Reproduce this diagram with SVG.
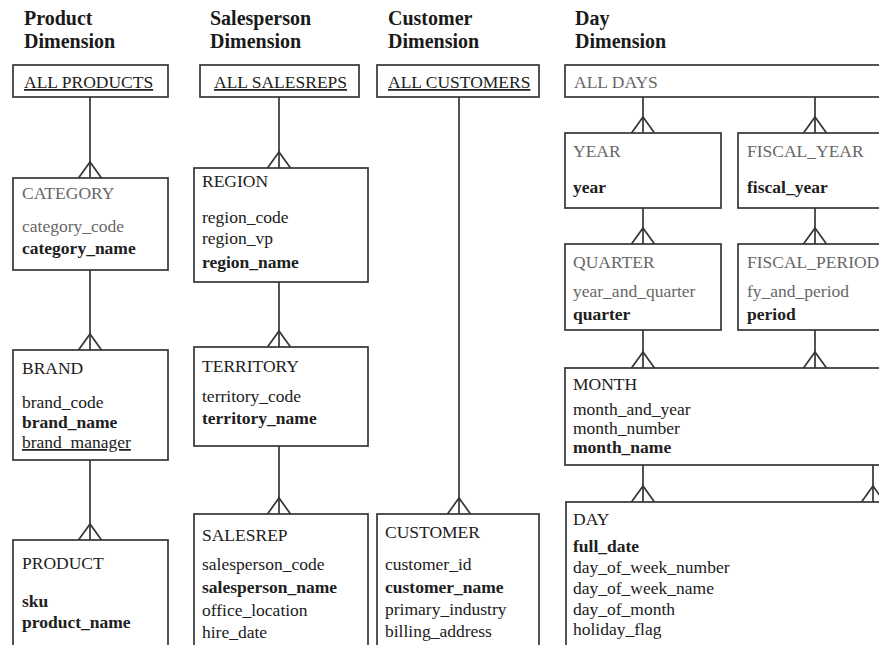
<svg xmlns="http://www.w3.org/2000/svg" xmlns:xlink="http://www.w3.org/1999/xlink" width="879" height="645" viewBox="0 0 879 645">
  <style>
    text { font-family: "Liberation Serif", "Times New Roman", serif; font-size: 17.5px; fill: #202020; }
    .hdr { font-size: 20px; font-weight: bold; fill: #1a1a1a; }
    .lt { fill: #676767; }
    .b { font-weight: bold; }
    .u { text-decoration: underline; }
    .box { fill: #ffffff; stroke: #353535; stroke-width: 1.7; }
    .wire { fill: none; stroke: #353535; stroke-width: 1.7; }
  </style>
  <defs>
    <!-- crow's foot (many end) drawn with its feet on y=0 -->
    <path id="crow" d="M-11.5,0 L0,-16 L11.5,0" fill="none" stroke="#353535" stroke-width="1.7"/>
  </defs>
  <rect width="879" height="645" fill="#ffffff"/>

  <!-- column headings -->
  <g id="headings">
    <text class="hdr" x="24" y="25">Product</text>
    <text class="hdr" x="24" y="48">Dimension</text>
    <text class="hdr" x="210" y="25">Salesperson</text>
    <text class="hdr" x="210" y="48">Dimension</text>
    <text class="hdr" x="388" y="25">Customer</text>
    <text class="hdr" x="388" y="48">Dimension</text>
    <text class="hdr" x="575" y="25">Day</text>
    <text class="hdr" x="575" y="48">Dimension</text>
  </g>

  <!-- connectors -->
  <g id="connectors">
    <line class="wire" x1="90" y1="97" x2="90" y2="178"/>
    <use xlink:href="#crow" x="90" y="178"/>
    <line class="wire" x1="90" y1="270" x2="90" y2="350"/>
    <use xlink:href="#crow" x="90" y="350"/>
    <line class="wire" x1="90" y1="460" x2="90" y2="540"/>
    <use xlink:href="#crow" x="90" y="540"/>

    <line class="wire" x1="279" y1="97" x2="279" y2="168"/>
    <use xlink:href="#crow" x="279" y="168"/>
    <line class="wire" x1="279" y1="282" x2="279" y2="347"/>
    <use xlink:href="#crow" x="279" y="347"/>
    <line class="wire" x1="279" y1="446" x2="279" y2="514"/>
    <use xlink:href="#crow" x="279" y="514"/>

    <line class="wire" x1="459" y1="97" x2="459" y2="514"/>
    <use xlink:href="#crow" x="459" y="514"/>

    <line class="wire" x1="643" y1="97" x2="643" y2="133"/>
    <use xlink:href="#crow" x="643" y="133"/>
    <line class="wire" x1="815" y1="97" x2="815" y2="133"/>
    <use xlink:href="#crow" x="815" y="133"/>
    <line class="wire" x1="643" y1="208" x2="643" y2="244"/>
    <use xlink:href="#crow" x="643" y="244"/>
    <line class="wire" x1="815" y1="208" x2="815" y2="244"/>
    <use xlink:href="#crow" x="815" y="244"/>
    <line class="wire" x1="643" y1="330" x2="643" y2="368"/>
    <use xlink:href="#crow" x="643" y="368"/>
    <line class="wire" x1="815" y1="330" x2="815" y2="368"/>
    <use xlink:href="#crow" x="815" y="368"/>
    <line class="wire" x1="643" y1="465" x2="643" y2="502"/>
    <use xlink:href="#crow" x="643" y="502"/>
    <line class="wire" x1="873" y1="465" x2="873" y2="502"/>
    <use xlink:href="#crow" x="873" y="502"/>
  </g>

  <!-- Product dimension -->
  <g id="all-products">
    <rect class="box" x="13" y="65" width="155" height="32"/>
    <text class="u" x="24" y="88">ALL PRODUCTS</text>
  </g>
  <g id="category">
    <rect class="box" x="13" y="178" width="155" height="92"/>
    <text class="lt" x="22" y="199">CATEGORY</text>
    <text class="lt" x="22" y="232">category_code</text>
    <text class="b" x="22" y="254">category_name</text>
  </g>
  <g id="brand">
    <rect class="box" x="13" y="350" width="155" height="110"/>
    <text x="22" y="374">BRAND</text>
    <text x="22" y="408">brand_code</text>
    <text class="b" x="22" y="428">brand_name</text>
    <text class="u" x="22" y="448">brand_manager</text>
  </g>
  <g id="product">
    <rect class="box" x="13" y="540" width="155" height="120"/>
    <text x="22" y="569">PRODUCT</text>
    <text class="b" x="22" y="607">sku</text>
    <text class="b" x="22" y="628">product_name</text>
  </g>

  <!-- Salesperson dimension -->
  <g id="all-salesreps">
    <rect class="box" x="200" y="65" width="159" height="32"/>
    <text class="u" x="214" y="88">ALL SALESREPS</text>
  </g>
  <g id="region">
    <rect class="box" x="194" y="168" width="174" height="114"/>
    <text x="202" y="187">REGION</text>
    <text x="202" y="223">region_code</text>
    <text x="202" y="244">region_vp</text>
    <text class="b" x="202" y="268">region_name</text>
  </g>
  <g id="territory">
    <rect class="box" x="194" y="347" width="174" height="99"/>
    <text x="202" y="372">TERRITORY</text>
    <text x="202" y="402">territory_code</text>
    <text class="b" x="202" y="424">territory_name</text>
  </g>
  <g id="salesrep">
    <rect class="box" x="194" y="514" width="174" height="146"/>
    <text x="202" y="541">SALESREP</text>
    <text x="202" y="570">salesperson_code</text>
    <text class="b" x="202" y="593">salesperson_name</text>
    <text x="202" y="616">office_location</text>
    <text x="202" y="638">hire_date</text>
  </g>

  <!-- Customer dimension -->
  <g id="all-customers">
    <rect class="box" x="377" y="65" width="162" height="32"/>
    <text class="u" x="388" y="88">ALL CUSTOMERS</text>
  </g>
  <g id="customer">
    <rect class="box" x="377" y="514" width="162" height="146"/>
    <text x="385" y="538">CUSTOMER</text>
    <text x="385" y="570">customer_id</text>
    <text class="b" x="385" y="593">customer_name</text>
    <text x="385" y="615">primary_industry</text>
    <text x="385" y="637">billing_address</text>
  </g>

  <!-- Day dimension -->
  <g id="all-days">
    <rect class="box" x="565" y="65" width="330" height="32"/>
    <text class="lt" x="574" y="88">ALL DAYS</text>
  </g>
  <g id="year">
    <rect class="box" x="565" y="133" width="156" height="75"/>
    <text class="lt" x="573" y="157">YEAR</text>
    <text class="b" x="573" y="193">year</text>
  </g>
  <g id="fiscal-year">
    <rect class="box" x="738" y="133" width="157" height="75"/>
    <text class="lt" x="747" y="157">FISCAL_YEAR</text>
    <text class="b" x="747" y="193">fiscal_year</text>
  </g>
  <g id="quarter">
    <rect class="box" x="565" y="244" width="156" height="86"/>
    <text class="lt" x="573" y="268">QUARTER</text>
    <text class="lt" x="573" y="297">year_and_quarter</text>
    <text class="b" x="573" y="320">quarter</text>
  </g>
  <g id="fiscal-period">
    <rect class="box" x="738" y="244" width="157" height="86"/>
    <text class="lt" x="747" y="268">FISCAL_PERIOD</text>
    <text class="lt" x="747" y="297">fy_and_period</text>
    <text class="b" x="747" y="320">period</text>
  </g>
  <g id="month">
    <rect class="box" x="565" y="368" width="330" height="97"/>
    <text x="573" y="390">MONTH</text>
    <text x="573" y="415">month_and_year</text>
    <text x="573" y="434">month_number</text>
    <text class="b" x="573" y="453">month_name</text>
  </g>
  <g id="day">
    <rect class="box" x="566" y="502" width="330" height="160"/>
    <text x="573" y="525">DAY</text>
    <text class="b" x="573" y="552">full_date</text>
    <text x="573" y="573">day_of_week_number</text>
    <text x="573" y="594">day_of_week_name</text>
    <text x="573" y="615">day_of_month</text>
    <text x="573" y="635">holiday_flag</text>
  </g>
</svg>
